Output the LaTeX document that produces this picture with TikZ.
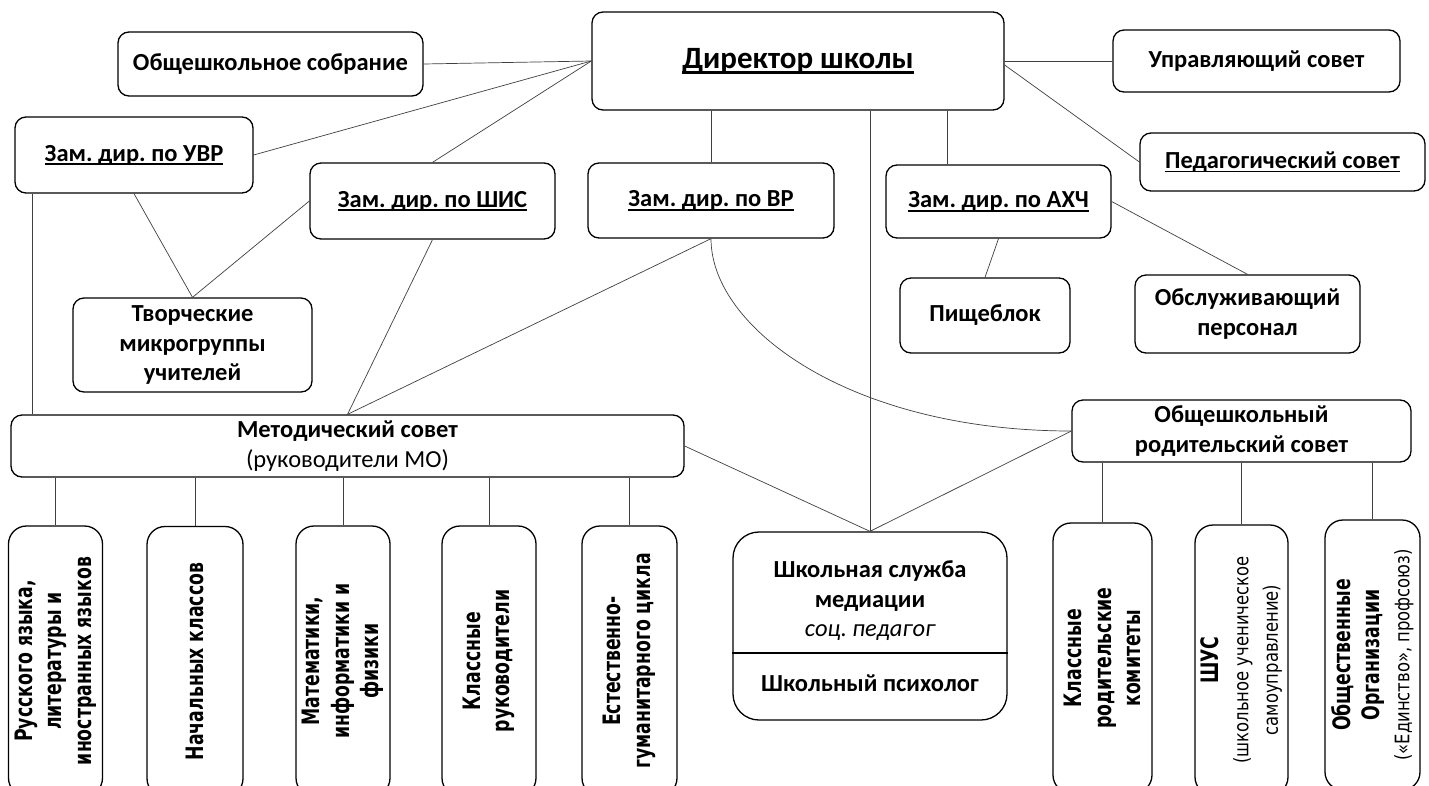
\documentclass[tikz,border=0pt]{standalone}
\usepackage{fontspec}
\setmainfont{Carlito}
\newfontfamily\vfont[FakeStretch=0.72]{DejaVu Sans}
\newfontfamily\vfontr[FakeStretch=0.82]{DejaVu Sans}
\newcommand\ulx[1]{\setbox0=\hbox{#1}\leavevmode\rlap{\rule[-4pt]{\wd0}{1.6pt}}\box0}
\newcommand\ulxx[1]{\setbox0=\hbox{#1}\leavevmode\rlap{\rule[-5pt]{\wd0}{2.2pt}}\box0}
\frenchspacing
\begin{document}
\frenchspacing
\begin{tikzpicture}[x=1pt,y=-1pt,
  box/.style={draw, line width=1.3pt, rounded corners=11pt, align=center,
    font=\frenchspacing\fontsize{24.5}{29.5}\selectfont\bfseries, inner sep=0pt},
  vbox/.style={draw, line width=1.3pt, rounded corners=18pt, inner sep=0pt,
    minimum height=270pt},
  vtext/.style={rotate=90, align=center, inner sep=0pt,
    font=\vfont\fontsize{24}{29.5}\selectfont\bfseries},
  link/.style={draw=black!75, line width=0.7pt}]
\fill[white] (0,0) rectangle (1429,785);
\useasboundingbox (0,0) rectangle (1429,785);
\clip (0,0) rectangle (1429,785);

% top row
\node[box, minimum width=412pt, minimum height=98pt,
  font=\fontsize{31}{36}\selectfont\bfseries] (dir) at (798,61) {\ulxx{Директор школы}};
\node[box, minimum width=305pt, minimum height=64pt] (obsch) at (270.5,64) {Общешкольное собрание};
\node[box, minimum width=287pt, minimum height=62pt] (upr) at (1256.5,61) {Управляющий совет};
\node[box, minimum width=238pt, minimum height=76pt] (uvr) at (134,155) {\ulx{Зам. дир. по УВР}};
\node[box, minimum width=245pt, minimum height=76pt] (shis) at (432.5,201) {\ulx{Зам. дир. по ШИС}};
\node[box, minimum width=246pt, minimum height=75pt] (vr) at (711,200.5) {\ulx{Зам. дир. по ВР}};
\node[box, minimum width=225pt, minimum height=73pt] (ahch) at (998.5,201.5) {\ulx{Зам. дир. по АХЧ}};
\node[box, minimum width=285pt, minimum height=58pt] (ped) at (1282.5,162) {\ulx{Педагогический совет}};

% middle
\node[box, minimum width=239pt, minimum height=94pt] (tvor) at (192.5,345) {Творческие\\микрогруппы\\учителей};
\node[box, minimum width=170pt, minimum height=75pt] (pisch) at (985,315.5) {Пищеблок};
\node[box, minimum width=225pt, minimum height=78pt] (obsl) at (1247.5,314) {Обслуживающий\\персонал};
\node[box, minimum width=673pt, minimum height=62pt] (met) at (347.5,446) {Методический совет\\{\mdseries (руководители МО)}};
\node[box, minimum width=339pt, minimum height=62pt] (ors) at (1241.5,431) {Общешкольный\\родительский совет};

% mediation service
\node[box, rounded corners=26pt, minimum width=274pt, minimum height=188pt] (ssm) at (870,626) {};
\draw[line width=1.3pt] ([yshift=-27pt]ssm.west) -- ([yshift=-27pt]ssm.east);
\node[box, draw=none] (ssmtop) at (870,601) {Школьная служба\\медиации\\{\mdseries\itshape соц. педагог}};
\node[box, draw=none] (ssmbot) at (870,683) {Школьный психолог};

% vertical boxes
\node[vbox, minimum width=94pt] (v1) at (55.5,661) {};
\node[vtext] (t1) at (v1) {Русского языка,\\литературы и\\иностранных языков};
\node[vbox, minimum width=96pt] (v2) at (195,661.5) {};
\node[vtext] (t2) at (v2) {Начальных классов};
\node[vbox, minimum width=94pt] (v3) at (343,661) {};
\node[vtext] (t3) at (v3) {Математики,\\информатики и\\физики};
\node[vbox, minimum width=94pt] (v4) at (489,661) {};
\node[vtext] (t4) at (v4) {Классные\\руководители};
\node[vbox, minimum width=95pt] (v5) at (629.5,661) {};
\node[vtext] (t5) at (v5) {Естественно-\\гуманитарного цикла};
\node[vbox, minimum width=99pt] (v6) at (1102.5,658) {};
\node[vtext] (t6) at (v6) {Классные\\родительские\\комитеты};
\node[vbox, minimum width=93pt] (v7) at (1241.5,660) {};
\node[vtext] (t7) at (v7) {ШУС\\{\vfontr\mdseries\fontsize{20}{25.5}\selectfont (школьное ученическое}\\{\vfontr\mdseries\fontsize{20}{25.5}\selectfont самоуправление)}};
\node[vbox, minimum width=95pt] (v8) at (1372.5,655) {};
\node[vtext] (t8) at (v8) {Общественные\\Организации\\{\vfontr\mdseries\fontsize{20}{28}\selectfont («Единство», профсоюз)}};

% helper coordinates
\coordinate (xa) at (947,0);
\coordinate (xb) at (32,0);

% connectors
\draw[link] (obsch.east) -- (dir.west);
\draw[link] (uvr.east) -- (dir.west);
\draw[link] (shis.north) -- (dir.west);
\draw[link] (dir.east) -- (upr.west);
\draw[link] ([yshift=-4pt]dir.east) -- (ped.west);
\draw[link] (vr.north |- dir.south) -- (vr.north);
\draw[link] (ssm.north |- dir.south) -- (ssm.north);
\draw[link] (dir.south -| xa) -- (ahch.north -| xa);
\draw[link] (ahch.south) -- (pisch.north);
\draw[link] (ahch.east) -- (obsl.north);
\draw[link] (uvr.south) -- (tvor.north);
\draw[link] (shis.west) -- (tvor.north);
\draw[link] (uvr.south -| xb) -- (met.north -| xb);
\draw[link] (shis.south) -- (met.north);
\draw[link] (vr.south) -- (met.north);
\draw[link] (vr.south) .. controls +(0,90) and +(-220,0) .. (ors.west);
\draw[link] (met.east) -- (ssm.north);
\draw[link] (ors.west) -- (ssm.north);
\foreach \v in {v1,v2,v3,v4,v5}
  \draw[link] (\v.north |- met.south) -- (\v.north);
\foreach \v in {v6,v7,v8}
  \draw[link] (\v.north |- ors.south) -- (\v.north);
\end{tikzpicture}
\end{document}
